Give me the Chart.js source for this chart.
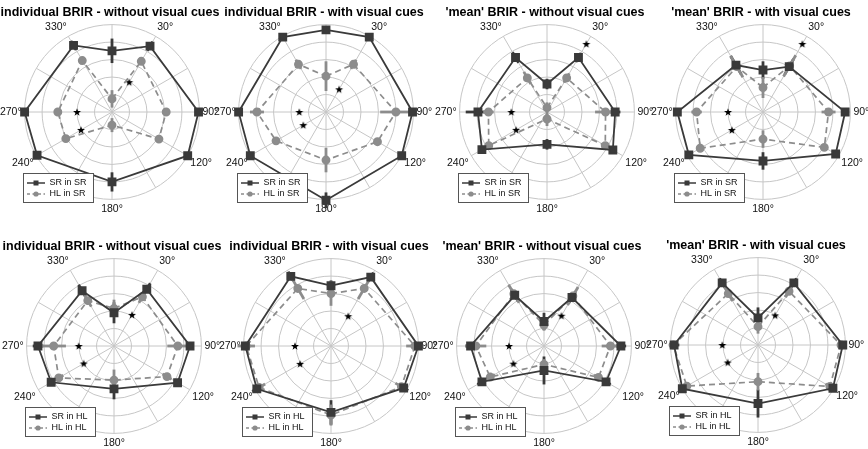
<!DOCTYPE html>
<html>
<head>
<meta charset="utf-8">
<script src="https://cdn.jsdelivr.net/npm/chart.js@4/dist/chart.umd.min.js"></script>
<style>
  html, body { margin: 0; padding: 0; background: #fff; }
  body { position: relative; width: 868px; height: 449px; overflow: hidden; }
  canvas { position: absolute; }
</style>
</head>
<body>
<script>
// angles of the polar grid, clockwise from the top
const angleLabels = ['0°', '30°', '60°', '90°', '120°', '150°', '180°', '210°', '240°', '270°', '300°', '330°'];
const shownLabels = ['30°', '90°', '120°', '180°', '240°', '270°', '330°'];

const titles = [
  'individual BRIR - without visual cues', 'individual BRIR - with visual cues',
  "'mean' BRIR - without visual cues", "'mean' BRIR - with visual cues",
  'individual BRIR - without visual cues', 'individual BRIR - with visual cues',
  "'mean' BRIR - without visual cues", "'mean' BRIR - with visual cues"
];
const srNames = ['SR in SR', 'SR in SR', 'SR in SR', 'SR in SR', 'SR in HL', 'SR in HL', 'SR in HL', 'SR in HL'];
const hlNames = ['HL in SR', 'HL in SR', 'HL in SR', 'HL in SR', 'HL in HL', 'HL in HL', 'HL in HL', 'HL in HL'];

// mean ratings per angle (0,30,60,...,330), null = not measured
const srMean = [
  [3.5, 4.35, null, 4.95, 5.0, null, 4.0, null, 4.95, 5.0, null, 4.4],
  [4.7, 4.95, null, 4.95, 5.0, null, 5.05, null, 5.0, 5.0, null, 4.95],
  [1.6, 3.6, null, 3.9, 4.35, null, 1.85, null, 4.3, 3.95, null, 3.6],
  [2.4, 3.0, null, 4.7, 4.8, null, 2.8, null, 4.9, 4.9, null, 3.1],
  [1.9, 3.75, null, 4.35, 4.2, null, 2.45, null, 4.15, 4.35, null, 3.65],
  [3.45, 4.55, null, 5.0, 4.8, null, 3.8, null, 4.9, 4.9, null, 4.6],
  [1.4, 3.2, null, 4.4, 4.1, null, 1.4, null, 4.1, 4.2, null, 3.35],
  [1.55, 4.1, null, 4.85, 4.95, null, 3.35, null, 5.0, 4.8, null, 4.1]
];
const hlMean = [
  [0.75, 3.35, null, 3.1, 3.1, null, 0.75, null, 3.05, 3.1, null, 3.4],
  [2.05, 3.15, null, 4.0, 3.4, null, 2.75, null, 3.3, 3.95, null, 3.15],
  [0.25, 2.25, null, 3.35, 3.85, null, 0.4, null, 3.85, 3.35, null, 2.25],
  [1.4, 3.05, null, 3.75, 4.05, null, 1.55, null, 4.15, 3.8, null, 3.0],
  [2.15, 3.25, null, 3.65, 3.5, null, 1.95, null, 3.65, 3.45, null, 3.0],
  [3.0, 3.8, null, 4.8, 4.65, null, 3.95, null, 4.75, 4.85, null, 3.8],
  [1.2, 3.3, null, 3.8, 3.6, null, 1.05, null, 3.55, 3.9, null, 3.45],
  [1.05, 3.55, null, 4.75, 4.75, null, 2.1, null, 4.7, 4.85, null, 3.4]
];
// error bar half-lengths
const srErr = [
  [0.7, 0.3, null, 0.2, 0.2, null, 0.55, null, 0.2, 0.2, null, 0.3],
  [0.2, 0.2, null, 0.15, 0.2, null, 0.45, null, 0.2, 0.2, null, 0.2],
  [0.3, 0.3, null, 0.3, 0.2, null, 0.3, null, 0.2, 0.7, null, 0.35],
  [0.5, 0.5, null, 0.2, 0.2, null, 0.5, null, 0.2, 0.2, null, 0.6],
  [0.6, 0.4, null, 0.2, 0.2, null, 0.6, null, 0.2, 0.3, null, 0.4],
  [0.3, 0.3, null, 0.15, 0.3, null, 0.7, null, 0.3, 0.2, null, 0.3],
  [0.5, 0.4, null, 0.3, 0.3, null, 0.8, null, 0.3, 0.3, null, 0.4],
  [0.6, 0.3, null, 0.2, 0.2, null, 0.8, null, 0.2, 0.3, null, 0.3]
];
const hlErr = [
  [0.5, 0.15, null, 0.15, 0.15, null, 0.4, null, 0.15, 0.15, null, 0.2],
  [0.85, 0.3, null, 0.9, 0.2, null, 0.7, null, 0.2, 0.4, null, 0.3],
  [0.3, 0.3, null, 0.6, 0.2, null, 0.4, null, 0.2, 0.3, null, 0.4],
  [0.6, 0.7, null, 0.4, 0.2, null, 0.5, null, 0.2, 0.3, null, 0.7],
  [0.5, 0.4, null, 0.6, 0.3, null, 0.6, null, 0.3, 0.7, null, 0.4],
  [0.7, 0.7, null, 0.5, 0.4, null, 0.6, null, 0.4, 0.5, null, 0.7],
  [0.3, 0.6, null, 0.5, 0.3, null, 0.3, null, 0.3, 0.6, null, 0.6],
  [0.4, 0.4, null, 0.2, 0.3, null, 0.5, null, 0.2, 0.2, null, 0.5]
];
// significance stars
const starVals = [
  [null, 1.97, null, null, null, null, null, null, 2.05, 2.0, null, null],
  [null, 1.5, null, null, null, null, null, null, 1.5, 1.53, null, null],
  [null, 4.5, null, null, null, null, null, null, 2.04, 2.04, null, null],
  [null, 4.5, null, null, null, null, null, null, 2.06, 2.0, null, null],
  [null, 2.06, null, null, null, null, null, null, 2.0, 2.02, null, null],
  [null, 1.97, null, null, null, null, null, null, 2.04, 2.06, null, null],
  [null, 2.0, null, null, null, null, null, null, 2.02, 2.0, null, null],
  [null, 1.96, null, null, null, null, null, null, 2.0, 2.04, null, null]
];

// where each polar centre sits on the page
const centers = [[112, 112], [326, 112], [547, 112], [763, 112], [114, 346], [331, 346], [544, 346], [758, 345]];

const FONT = "'Liberation Sans', Arial, sans-serif";
const SR_COLOR = '#3a3a3a';
const HL_COLOR = '#8c8c8c';
const GRID = '#c6c6c6';
Chart.defaults.font.family = FONT;

function icon(w, h, draw) {
  const c = document.createElement('canvas');
  c.width = w; c.height = h;
  draw(c.getContext('2d'));
  return c;
}
const starImg = icon(10, 10, (g) => {
  g.fillStyle = '#000';
  g.beginPath();
  for (let k = 0; k < 10; k++) {
    const rr = k % 2 ? 1.7 : 4.2;
    const a = -Math.PI / 2 + k * Math.PI / 5;
    g.lineTo(5 + rr * Math.cos(a), 5.4 + rr * Math.sin(a));
  }
  g.closePath();
  g.fill();
});
const legendIcons = [
  icon(18, 8, (g) => {
    g.strokeStyle = SR_COLOR; g.lineWidth = 1.5;
    g.beginPath(); g.moveTo(0, 4); g.lineTo(18, 4); g.stroke();
    g.fillStyle = SR_COLOR; g.fillRect(6.5, 1.5, 5, 5);
  }),
  icon(18, 8, (g) => {
    g.strokeStyle = HL_COLOR; g.lineWidth = 1.5; g.setLineDash([3, 2.5]);
    g.beginPath(); g.moveTo(0, 4); g.lineTo(18, 4); g.stroke();
    g.fillStyle = HL_COLOR; g.beginPath(); g.arc(9, 4, 2.6, 0, Math.PI * 2); g.fill();
  })
];

// radial error bars, drawn under the markers
function errorBars(k) {
  const sets = [[srMean[k], srErr[k], SR_COLOR], [hlMean[k], hlErr[k], HL_COLOR]];
  return {
    id: 'errorBars',
    beforeDatasetsDraw(chart) {
      const r = chart.scales.r, ctx = chart.ctx;
      ctx.save();
      ctx.lineWidth = 2.8;
      sets.forEach(([vals, errs, color]) => {
        ctx.strokeStyle = color;
        vals.forEach((v, i) => {
          if (v === null) return;
          const a = r.getPointPositionForValue(i, Math.max(0, v - errs[i]));
          const b = r.getPointPositionForValue(i, v + errs[i]);
          ctx.beginPath(); ctx.moveTo(a.x, a.y); ctx.lineTo(b.x, b.y); ctx.stroke();
        });
      });
      ctx.restore();
    }
  };
}

// legend inside a boxed area at lower left of the polar plot
const legendBox = {
  id: 'legendBox',
  afterLayout(chart) {
    const r = chart.scales.r, lg = chart.legend;
    lg.left = r.xCenter - 87; lg.top = r.yCenter + 64.5;
    lg.width = 68; lg.height = 28;
    lg.right = lg.left + lg.width; lg.bottom = lg.top + lg.height;
  },
  afterDatasetsDraw(chart) {
    const r = chart.scales.r, ctx = chart.ctx;
    const x = Math.round(r.xCenter - 89) + 0.5, y = Math.round(r.yCenter + 61) + 0.5;
    ctx.save();
    ctx.fillStyle = '#fff';
    ctx.strokeStyle = '#555';
    ctx.lineWidth = 1;
    ctx.fillRect(x, y, 70, 29);
    ctx.strokeRect(x, y, 70, 29);
    ctx.restore();
    chart.legend.draw();
  }
};

titles.forEach((title, k) => {
  const cv = document.createElement('canvas');
  cv.width = 226; cv.height = 222;
  document.body.appendChild(cv);
  const chart = new Chart(cv.getContext('2d'), {
    type: 'radar',
    data: {
      labels: angleLabels,
      datasets: [
        {
          label: srNames[k], data: srMean[k], fill: false, spanGaps: true, tension: 0,
          borderColor: SR_COLOR, borderWidth: 1.8,
          pointStyle: 'rect', pointRadius: 5, pointBackgroundColor: SR_COLOR, pointBorderColor: SR_COLOR
        },
        {
          label: hlNames[k], data: hlMean[k], fill: false, spanGaps: true, tension: 0,
          borderColor: HL_COLOR, borderWidth: 1.7, borderDash: [6, 4],
          pointStyle: 'circle', pointRadius: 3.6, pointBackgroundColor: HL_COLOR, pointBorderColor: HL_COLOR
        },
        {
          label: 'p < 0.05', data: starVals[k], fill: false, showLine: false, borderWidth: 0,
          borderColor: 'rgba(0,0,0,0)', pointStyle: starImg, pointRadius: 4
        }
      ]
    },
    options: {
      responsive: false,
      animation: false,
      events: [],
      layout: { padding: 0 },
      plugins: {
        title: {
          display: true, text: title, color: '#000',
          font: { size: 12.5, weight: 'bold', lineHeight: 1.2 },
          padding: { top: 5.5, bottom: -4.5 }
        },
        legend: {
          position: 'chartArea', align: 'start',
          labels: {
            usePointStyle: true, pointStyleWidth: 18, boxHeight: 8, padding: 2,
            color: '#111', font: { size: 9 },
            filter: (item) => item.datasetIndex < 2,
            generateLabels: (c) => Chart.defaults.plugins.legend.labels.generateLabels(c)
              .map((it) => Object.assign(it, { pointStyle: legendIcons[it.datasetIndex] || it.pointStyle }))
          }
        },
        tooltip: { enabled: false }
      },
      scales: {
        r: {
          min: 0, max: 5,
          ticks: { display: false, stepSize: 1 },
          grid: { circular: true, color: GRID, lineWidth: 1 },
          angleLines: { color: GRID, lineWidth: 1 },
          pointLabels: {
            color: '#111', padding: 3, font: { size: 10.5 },
            callback: (label) => (shownLabels.includes(label) ? label : [])
          }
        }
      }
    },
    plugins: [errorBars(k), legendBox]
  });
  const r = chart.scales.r;
  cv.style.left = (centers[k][0] - r.xCenter) + 'px';
  cv.style.top = (centers[k][1] - r.yCenter) + 'px';
});
</script>
</body>
</html>
